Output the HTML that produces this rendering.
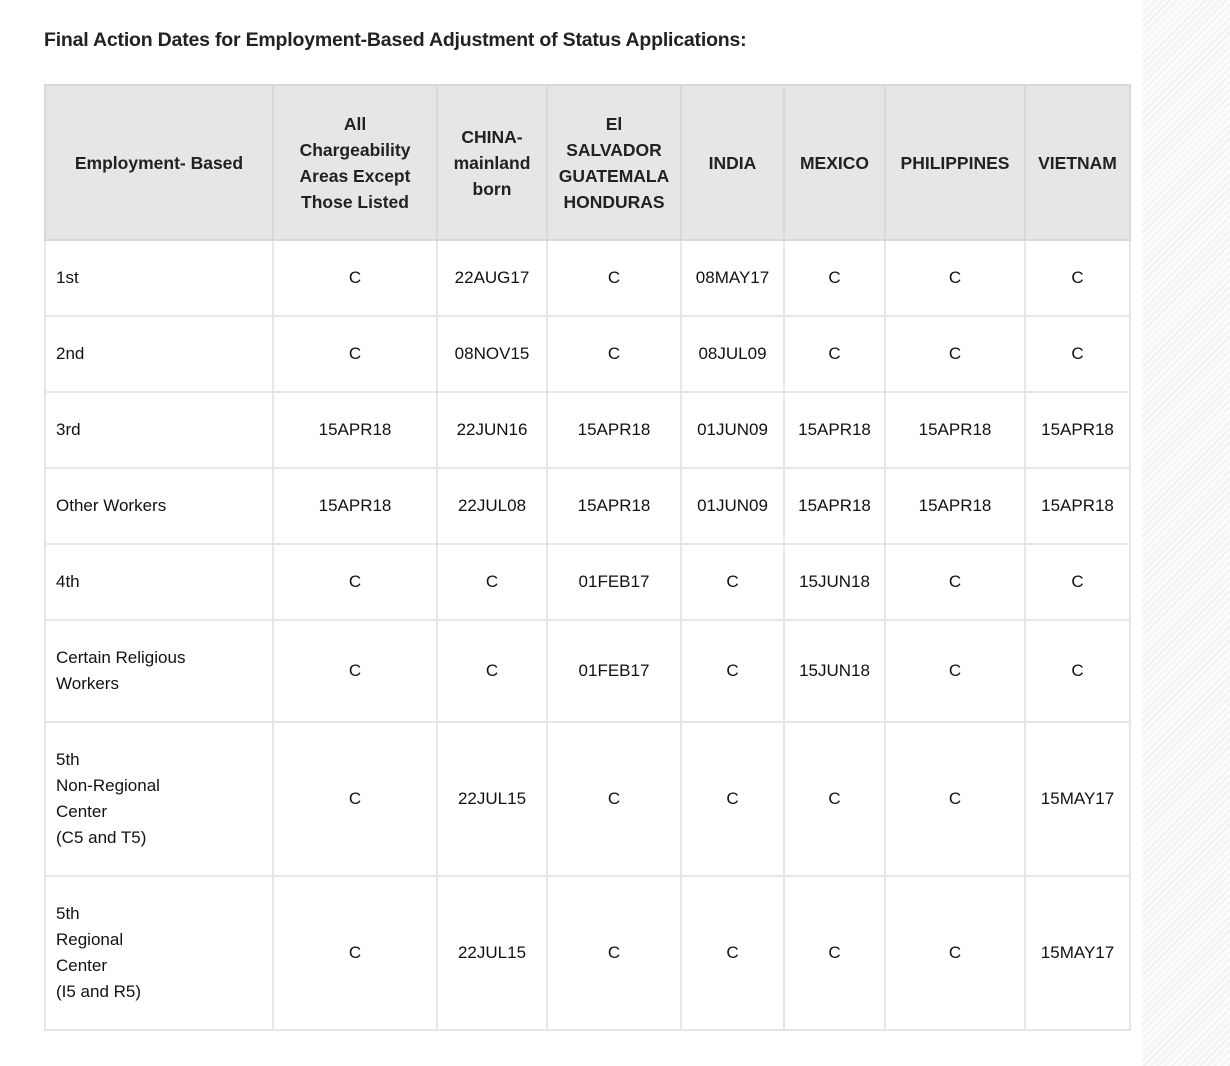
<!DOCTYPE html>
<html><head><style>
html,body{margin:0;padding:0;background:#fff;width:1230px;height:1066px;overflow:hidden;position:relative;font-family:"Liberation Sans",sans-serif;color:#111}
.stripe{position:absolute;left:1142px;top:0;width:88px;height:1066px;background:repeating-linear-gradient(-45deg,#f3f3f3 0 2px,#fcfcfc 2px 5px)}
h1{position:absolute;left:44px;top:29px;margin:0;font-size:19.5px;font-weight:bold;letter-spacing:-0.2px;color:#222}
table{position:absolute;left:44px;top:84px;border-collapse:collapse;table-layout:fixed;font-size:17px}
td,th{border:2px solid #e6e6e6;text-align:center;padding:0 2px;line-height:26px}
th{background:#e6e6e6;border-color:#d8d8d8;font-weight:bold;color:#222;font-size:17.5px}
td:first-child{text-align:left;padding-left:10px}
th:first-child{text-align:center}
</style></head><body>
<div class="stripe"></div>
<h1>Final Action Dates for Employment-Based Adjustment of Status Applications:</h1>
<table>
<colgroup><col style="width:228px"><col style="width:164px"><col style="width:110px"><col style="width:134px"><col style="width:103px"><col style="width:101px"><col style="width:140px"><col style="width:105px"></colgroup>
<tr style="height:155px"><th>Employment- Based</th><th>All<br>Chargeability<br>Areas Except<br>Those Listed</th><th>CHINA-<br>mainland<br>born</th><th>El<br>SALVADOR<br>GUATEMALA<br>HONDURAS</th><th>INDIA</th><th>MEXICO</th><th>PHILIPPINES</th><th>VIETNAM</th></tr>
<tr style="height:76px"><td>1st</td><td>C</td><td>22AUG17</td><td>C</td><td>08MAY17</td><td>C</td><td>C</td><td>C</td></tr>
<tr style="height:76px"><td>2nd</td><td>C</td><td>08NOV15</td><td>C</td><td>08JUL09</td><td>C</td><td>C</td><td>C</td></tr>
<tr style="height:76px"><td>3rd</td><td>15APR18</td><td>22JUN16</td><td>15APR18</td><td>01JUN09</td><td>15APR18</td><td>15APR18</td><td>15APR18</td></tr>
<tr style="height:76px"><td>Other Workers</td><td>15APR18</td><td>22JUL08</td><td>15APR18</td><td>01JUN09</td><td>15APR18</td><td>15APR18</td><td>15APR18</td></tr>
<tr style="height:76px"><td>4th</td><td>C</td><td>C</td><td>01FEB17</td><td>C</td><td>15JUN18</td><td>C</td><td>C</td></tr>
<tr style="height:102px"><td>Certain Religious<br>Workers</td><td>C</td><td>C</td><td>01FEB17</td><td>C</td><td>15JUN18</td><td>C</td><td>C</td></tr>
<tr style="height:154px"><td>5th<br>Non-Regional<br>Center<br>(C5 and T5)</td><td>C</td><td>22JUL15</td><td>C</td><td>C</td><td>C</td><td>C</td><td>15MAY17</td></tr>
<tr style="height:154px"><td>5th<br>Regional<br>Center<br>(I5 and R5)</td><td>C</td><td>22JUL15</td><td>C</td><td>C</td><td>C</td><td>C</td><td>15MAY17</td></tr>
</table>
</body></html>
